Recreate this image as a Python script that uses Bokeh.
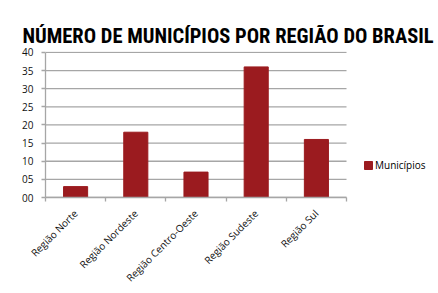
import math
from bokeh.plotting import figure
from bokeh.models import FixedTicker, Legend, LegendItem, Range1d
from bokeh.embed import file_html
from bokeh.resources import INLINE

title_text = "NÚMERO DE MUNICÍPIOS POR REGIÃO DO BRASIL"
categories = ["Região Norte", "Região Nordeste", "Região Centro-Oeste", "Região Sudeste", "Região Sul"]
municipios = [3, 18, 7, 36, 16]
series_name = "Municípios"
y_ticks = [0, 5, 10, 15, 20, 25, 30, 35, 40]
y_tick_labels = ["00", "05", "10", "15", "20", "25", "30", "35", "40"]

n = len(categories)
x_pos = [i + 0.5 for i in range(n)]
boundaries = list(range(n + 1))

GRAY = "#a6a6a6"
BAR = "#9b1b1f"

# plot area of the categories: px 45..346; frame extends to the right edge for the legend
x_end = n * (438 - 45) / (346 - 45)

p = figure(width=438, height=293, output_backend="svg", toolbar_location=None,
           x_range=Range1d(0, x_end), y_range=Range1d(0, 40.25),
           min_border_left=45, min_border_right=0, min_border_top=51, min_border_bottom=96,
           background_fill_color="white", border_fill_color="white")
p.outline_line_color = None

p.title.text = title_text
p.title.align = "left"
p.title.offset = -23
p.title.standoff = 7
p.title.text_font = "Roboto Condensed"
p.title.text_font_style = "bold"
p.title.text_font_size = "20.5px"
p.title.text_color = "black"

# horizontal gridlines limited to the category span
p.segment(x0=0, x1=n, y0=y_ticks, y1=y_ticks, line_color=GRAY, line_width=1.3)

r = p.vbar(x=x_pos, top=municipios, width=0.4, fill_color=BAR, line_color=BAR)

# x axis
p.xaxis.bounds = (0, n)
p.xaxis.ticker = FixedTicker(ticks=x_pos, minor_ticks=boundaries)
p.xaxis.major_label_overrides = {x: c for x, c in zip(x_pos, categories)}
p.xaxis.major_tick_line_color = None
p.xaxis.major_tick_in = 0
p.xaxis.major_tick_out = 0
p.xaxis.minor_tick_in = 0
p.xaxis.minor_tick_out = 4
p.xaxis.minor_tick_line_color = GRAY
p.xaxis.minor_tick_line_width = 1.3
p.xaxis.axis_line_color = GRAY
p.xaxis.axis_line_width = 1.3
p.xaxis.major_label_orientation = math.pi / 4
p.xaxis.major_label_standoff = 10
p.xaxis.major_label_text_font = "Open Sans"
p.xaxis.major_label_text_font_size = "10px"
p.xaxis.major_label_text_color = "#111111"

# y axis
p.yaxis.bounds = (0, 40)
p.yaxis.ticker = FixedTicker(ticks=y_ticks)
p.yaxis.major_label_overrides = {t: l for t, l in zip(y_ticks, y_tick_labels)}
p.yaxis.major_tick_in = 0
p.yaxis.major_tick_out = 4
p.yaxis.major_tick_line_color = GRAY
p.yaxis.major_tick_line_width = 1.3
p.yaxis.minor_tick_line_color = None
p.yaxis.axis_line_color = GRAY
p.yaxis.axis_line_width = 1.3
p.yaxis.major_label_standoff = 8
p.yaxis.major_label_text_font = "Open Sans"
p.yaxis.major_label_text_font_size = "10px"
p.yaxis.major_label_text_color = "#111111"

p.xgrid.grid_line_color = None
p.ygrid.grid_line_color = None

legend = Legend(items=[LegendItem(label=series_name, renderers=[r])],
                location=(318, 25), orientation="vertical",
                margin=0, padding=0, spacing=0,
                glyph_width=10, glyph_height=10, label_height=10, label_standoff=2,
                label_text_font="Open Sans", label_text_font_size="10px",
                label_text_color="black",
                background_fill_alpha=0, border_line_color=None)
p.add_layout(legend, "center")

open("out.html", "w").write(file_html(p, INLINE))
